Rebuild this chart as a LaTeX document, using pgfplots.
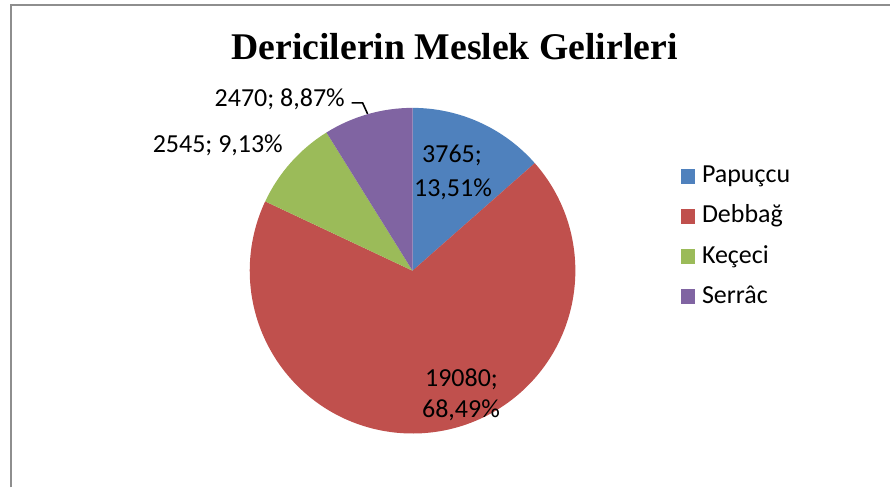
\documentclass[border=0pt]{standalone}
\usepackage{pgfplots}
\pgfplotsset{compat=1.18}
\usepackage{pgfplotstable}
\usepackage{fontspec}
\setmainfont{Carlito}
\newfontfamily\titlefont{Liberation Serif}
\definecolor{pblue}{HTML}{4F81BD}
\definecolor{pred}{HTML}{C0504D}
\definecolor{pgreen}{HTML}{9BBB59}
\definecolor{ppurple}{HTML}{8064A2}
\definecolor{framegray}{HTML}{8E8E8E}

% Meslek gelirleri (Papuçcu, Debbağ, Keçeci, Serrâc)
\pgfplotstableread{
value
3765
19080
2545
2470
}\piedata

\newcommand\slice[3]{%
  \fill[#3] (axis cs:413,217) -- ++(#1:122.25pt)
    arc[start angle=#1, end angle=#2, radius=122.25pt] -- cycle;}

\begin{document}
\begin{tikzpicture}
\pgfplotstablegetelem{0}{value}\of\piedata \edef\va{\pgfplotsretval}
\pgfplotstablegetelem{1}{value}\of\piedata \edef\vb{\pgfplotsretval}
\pgfplotstablegetelem{2}{value}\of\piedata \edef\vc{\pgfplotsretval}
\pgfplotstablegetelem{3}{value}\of\piedata \edef\vd{\pgfplotsretval}
\edef\tot{\fpeval{\va+\vb+\vc+\vd}}
\edef\aA{90}
\edef\aB{\fpeval{90-360*\va/\tot}}
\edef\aC{\fpeval{\aB-360*\vb/\tot}}
\edef\aD{\fpeval{\aC-360*\vc/\tot}}
\edef\aE{\fpeval{\aD-360*\vd/\tot}}
\begin{axis}[
  width=668.25pt, height=366pt, scale only axis,
  xmin=0, xmax=891, ymin=0, ymax=488,
  hide axis, clip=false,
  legend cell align=left,
  legend style={at={(axis cs:681,324)}, anchor=north west,
    draw=none, fill=none, inner sep=0pt,
    row sep=12.2pt, column sep=5.25pt,
    font=\fontsize{19.5}{23.4}\selectfont,
    nodes={inner sep=0pt, text height=14pt, text depth=4pt}},
]
\path (axis cs:0,0) rectangle (axis cs:891,488);
\draw[line width=1.5pt, framegray] (axis cs:11,0) -- (axis cs:11,483) -- (axis cs:891,483);

\slice{\aA}{\aB}{pblue}
\slice{\aB}{\aC}{pred}
\slice{\aC}{\aD}{pgreen}
\slice{\aD}{\aE}{ppurple}

\addlegendimage{legend image code/.code={\fill[pblue] (0pt,-5.25pt) rectangle (10.5pt,5.25pt);}}
\addlegendentry{Papuçcu}
\addlegendimage{legend image code/.code={\fill[pred] (0pt,-5.25pt) rectangle (10.5pt,5.25pt);}}
\addlegendentry{Debbağ}
\addlegendimage{legend image code/.code={\fill[pgreen] (0pt,-5.25pt) rectangle (10.5pt,5.25pt);}}
\addlegendentry{Keçeci}
\addlegendimage{legend image code/.code={\fill[ppurple] (0pt,-5.25pt) rectangle (10.5pt,5.25pt);}}
\addlegendentry{Serrâc}

\draw[line width=1.2pt, black] (axis cs:352,385) -- (axis cs:363,385) -- (axis cs:368,374);

\begin{scope}[every node/.style={font=\fontsize{19.5}{23.4}\selectfont, inner sep=0pt, anchor=base}]
\node at (axis cs:452.5,325) {3765;};
\node at (axis cs:453.5,291) {13,51\%};
\node at (axis cs:462,101) {19080;};
\node at (axis cs:461.5,70) {68,49\%};
\node at (axis cs:218,335) {2545; 9,13\%};
\node at (axis cs:280,381) {2470; 8,87\%};
\end{scope}
\node[anchor=base, inner sep=0pt, font=\titlefont\bfseries\fontsize{28.3}{34}\selectfont] at (axis cs:455,428) {Dericilerin Meslek Gelirleri};
\end{axis}
\end{tikzpicture}
\end{document}
